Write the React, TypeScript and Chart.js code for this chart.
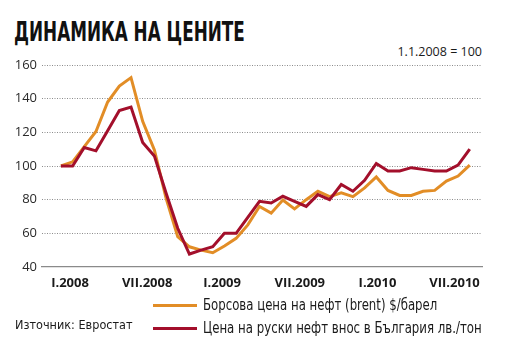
import React, { useEffect, useLayoutEffect, useRef, useState } from "react";
import { Chart, registerables } from "chart.js";

Chart.register(...registerables);

const title = "ДИНАМИКА НА ЦЕНИТЕ";
const subtitle = "1.1.2008 = 100";
const source = "Източник: Евростат";

// monthly index, I.2008 .. XII.2010 (36 observations)
const brent = [
  100, 102.5, 111.5, 120.5, 138, 147.5, 152.5, 126.5, 109.5, 81, 58, 52,
  50, 48.5, 52.5, 57, 65, 76, 72, 79.8, 74.5, 80, 85, 81.8,
  84, 81.8, 87, 93.5, 85.5, 82.5, 82.5, 85, 85.5, 91, 94, 100.5,
];
const russian = [
  100, 100, 111, 109, 121, 133, 135, 114, 106, 84, 63, 47.7,
  50, 52, 60, 60, 69.5, 79, 78, 82, 79, 76, 83, 80,
  89, 85, 91.5, 101.5, 97, 97, 99, 98, 97, 97, 100.5, 110,
];

const seriesNames = [
  "Борсова цена на нефт (brent) $/барел",
  "Цена на руски нефт внос в България лв./тон",
];
const xTickLabels = ["I.2008", "VII.2008", "I.2009", "VII.2009", "I.2010", "VII.2010"];
const yTicks = [40, 60, 80, 100, 120, 140, 160];

// layout constants (positions of x tick labels along the month index)
const X_TICK_POS = [0.78, 7.38, 13.8, 20.45, 27.1, 33.7];
const ORANGE = "#E28D26";
const RED = "#A30F2B";
const NARROW = "'DejaVu Sans', sans-serif";

function FitText({ text, width }: { text: string; width: number }) {
  const ref = useRef<HTMLSpanElement | null>(null);
  const [scale, setScale] = useState(1);
  useLayoutEffect(() => {
    const el = ref.current;
    if (!el) return;
    const w = el.offsetWidth;
    if (w > 0) setScale(width / w);
  }, [text, width]);
  return (
    <span
      ref={ref}
      style={{
        display: "inline-block",
        transform: `scaleX(${scale})`,
        transformOrigin: "0 0",
        whiteSpace: "nowrap",
      }}
    >
      {text}
    </span>
  );
}

export default function App() {
  const ref = useRef<HTMLCanvasElement | null>(null);

  useEffect(() => {
    const canvas = ref.current;
    if (!canvas) return;
    const toPts = (arr: number[]) => arr.map((v, i) => ({ x: i, y: v }));
    const chart = new Chart(canvas, {
      type: "line",
      data: {
        datasets: [
          {
            label: seriesNames[1],
            data: toPts(russian),
            borderColor: RED,
            borderWidth: 3,
            pointRadius: 0,
            tension: 0,
            borderJoinStyle: "miter",
          },
          {
            label: seriesNames[0],
            data: toPts(brent),
            borderColor: ORANGE,
            borderWidth: 3,
            pointRadius: 0,
            tension: 0,
            borderJoinStyle: "miter",
          },
        ],
      },
      options: {
        animation: false,
        responsive: false,
        devicePixelRatio: 1,
        layout: { padding: { top: 65, right: 28, bottom: 0, left: 0 } },
        plugins: {
          legend: { display: false },
          tooltip: { enabled: false },
        },
        scales: {
          x: {
            type: "linear",
            min: -1.62,
            max: 36.05,
            afterFit: (s: any) => {
              s.height = 33;
            },
            afterBuildTicks: (s: any) => {
              s.ticks = X_TICK_POS.map((v) => ({ value: v }));
            },
            grid: { display: false, drawTicks: false },
            border: { display: true, color: "#8a8a8a", width: 1.2 },
            ticks: {
              padding: 8,
              maxRotation: 0,
              autoSkip: false,
              color: "#1a1a1a",
              font: { family: "'Open Sans'", size: 13, weight: "bold" },
              callback: (_v: any, i: number) => xTickLabels[i],
            },
          },
          y: {
            min: 40,
            max: 160,
            afterFit: (s: any) => {
              s.width = 42;
            },
            afterBuildTicks: (s: any) => {
              s.ticks = yTicks.map((v) => ({ value: v }));
            },
            grid: {
              drawTicks: false,
              color: (ctx: any) => (ctx.tick && ctx.tick.value === 40 ? "rgba(0,0,0,0)" : "#8c8c8c"),
              lineWidth: 1,
            },
            border: { display: false, dash: [1, 1.5] },
            ticks: {
              padding: 5,
              color: "#2a2a2a",
              font: { family: "'Open Sans'", size: 13 },
            },
          },
        },
      },
    });
    return () => chart.destroy();
  }, []);

  const textBox = (left: number, top: number, size: number, lh: number, weight = 400): React.CSSProperties => ({
    position: "absolute",
    left,
    top,
    fontFamily: NARROW,
    fontSize: size,
    fontWeight: weight,
    lineHeight: `${lh}px`,
    color: "#1a1a1a",
    whiteSpace: "nowrap",
  });

  return (
    <div
      style={{
        position: "fixed",
        left: 0,
        top: 0,
        width: 510,
        height: 355,
        background: "#fff",
        overflow: "hidden",
      }}
    >
      <div style={{ ...textBox(14, 17, 26, 30, 900), color: "#111" }}>
        <FitText text={title} width={231} />
      </div>
      <div
        style={{
          position: "absolute",
          right: 28,
          top: 43,
          fontFamily: "'Open Sans', sans-serif",
          fontSize: 12.5,
          lineHeight: "18px",
          color: "#1a1a1a",
          whiteSpace: "nowrap",
        }}
      >
        {subtitle}
      </div>
      <canvas ref={ref} width={510} height={300} style={{ position: "absolute", left: 0, top: 0 }} />
      <div style={{ position: "absolute", left: 153, top: 303.5, width: 44, height: 3, background: ORANGE }} />
      <div style={{ position: "absolute", left: 153, top: 326.5, width: 44, height: 3, background: RED }} />
      <div style={textBox(203, 295, 16, 20)}>
        <FitText text={seriesNames[0]} width={234} />
      </div>
      <div style={textBox(203, 318, 16, 20)}>
        <FitText text={seriesNames[1]} width={279} />
      </div>
      <div style={textBox(15, 317, 13, 16)}>
        <FitText text={source} width={118} />
      </div>
    </div>
  );
}
